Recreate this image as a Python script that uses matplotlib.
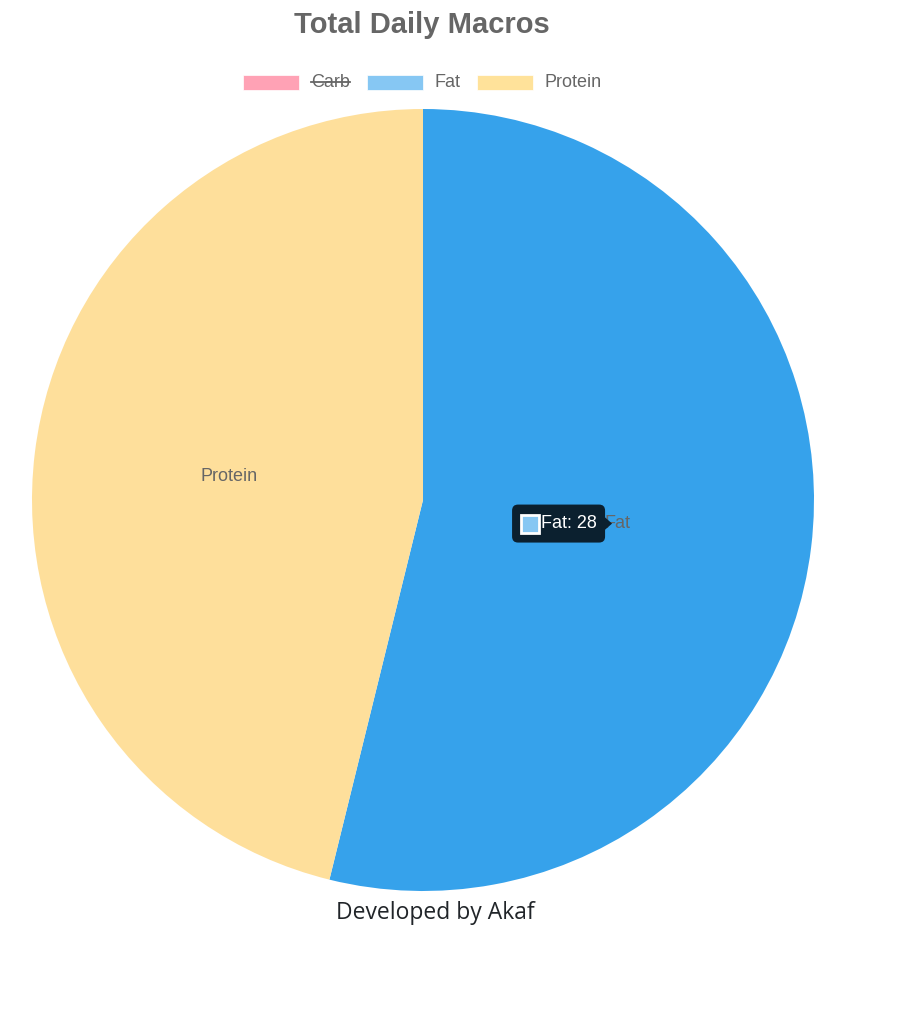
import matplotlib.pyplot as plt
from matplotlib.patches import FancyBboxPatch, Rectangle, Polygon

# data
labels = ["Carb", "Fat", "Protein"]
values = [0, 28, 24]          # carb is hidden in the legend
hidden = [True, False, False]
legend_colors = ["#FFA2B5", "#86C7F3", "#FFE29A"]
slice_colors = ["#FF6384", "#36A2EB", "#FEDF9B"]

W, H = 910, 1021
fig = plt.figure(figsize=(W / 100, H / 100), dpi=100)
ax = fig.add_axes([0, 0, 1, 1])

def py(y):
    return H - y

font = "Liberation Sans"

shown = [i for i in range(len(labels)) if not hidden[i]]
wedges, texts = ax.pie(
    [values[i] for i in shown],
    labels=[labels[i] for i in shown],
    colors=[slice_colors[i] for i in shown],
    startangle=90, counterclock=False,
    center=(423, py(500)), radius=391,
    labeldistance=0.5, frame=True,
    textprops=dict(color="#666666", fontsize=13, family=font),
)
for t in texts:
    t.set_ha("center")
    t.set_va("center")
ax.set_xlim(0, W)
ax.set_ylim(0, H)
ax.set_aspect("equal")
ax.axis("off")

# title
ax.text(422, py(25), "Total Daily Macros", ha="center", va="center",
        fontsize=21, fontweight="bold", color="#666666", family=font)

# legend
lx = [243, 367, 477]
for i, lab in enumerate(labels):
    ax.add_patch(Rectangle((lx[i], py(90)), 56, 15, facecolor=legend_colors[i],
                           edgecolor="white", lw=0.5))
    t = ax.text(lx[i] + 68, py(82), lab, ha="left", va="center",
                fontsize=13, color="#666666", family=font)
    if hidden[i]:
        ax.plot([lx[i] + 68, lx[i] + 107], [py(82), py(82)], color="#666666", lw=1.3)

# tooltip for Fat
fat_t = texts[shown.index(1)]
fx, fy = fat_t.get_position()
right = fx - 12
box_w, box_h = 93, 38
ax.add_patch(FancyBboxPatch((right - box_w, fy - box_h / 2), box_w, box_h,
                            boxstyle="round,pad=0,rounding_size=6",
                            facecolor="#0B202F", edgecolor="none", zorder=5))
ax.add_patch(Polygon([[right - 1, fy + 7], [right + 7, fy], [right - 1, fy - 7]],
                     closed=True, facecolor="#0B202F", edgecolor="none", zorder=5))
ax.add_patch(Rectangle((right - 84, fy - 9), 18, 18, facecolor="#86C7F3",
                       edgecolor="white", lw=2, zorder=6))
ax.text(right - 64, fy, "Fat: 28", ha="left", va="center", color="white",
        fontsize=13, family=font, zorder=7)

# footer
ax.text(435, py(913), "Developed by Akaf", ha="center", va="center",
        fontsize=16.5, color="#212529", family="Open Sans")

fig.savefig("out.png", dpi=100)
